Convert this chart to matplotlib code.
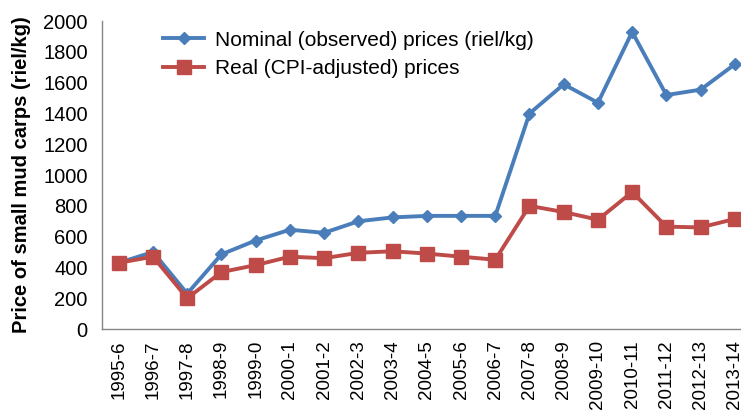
import matplotlib
matplotlib.use('Agg')
import matplotlib.pyplot as plt

plt.rcParams['font.family'] = ['Liberation Sans', 'DejaVu Sans']

years = ['1995-6', '1996-7', '1997-8', '1998-9', '1999-0', '2000-1', '2001-2',
         '2002-3', '2003-4', '2004-5', '2005-6', '2006-7', '2007-8', '2008-9',
         '2009-10', '2010-11', '2011-12', '2012-13', '2013-14']

nominal = [430, 500, 230, 485, 575, 645, 625, 700, 725, 735, 735, 735,
           1400, 1590, 1470, 1930, 1520, 1555, 1720]

real = [430, 470, 200, 370, 415, 470, 460, 495, 505, 490, 470, 450,
        800, 760, 710, 890, 665, 660, 715]

fig = plt.figure(figsize=(7.41, 4.11), dpi=100)
ax = fig.add_axes([0.1372, 0.1995, 0.8776, 0.749])

x = list(range(len(years)))
ax.plot(x, nominal, color='#4a7ebb', lw=2.8, marker='D', ms=6,
        label='Nominal (observed) prices (riel/kg)')
ax.plot(x, real, color='#be4b48', lw=2.8, marker='s', ms=10,
        label='Real (CPI-adjusted) prices')

ax.set_xlim(-0.5, len(years) - 0.5)
ax.set_ylim(0, 2000)
ax.set_yticks(range(0, 2001, 200))
ax.set_xticks(x)
ax.set_xticklabels(years, rotation=90, fontsize=13.5)
ax.tick_params(axis='x', length=0, pad=8)
ax.tick_params(axis='y', length=0, labelsize=14.5, pad=10)

for s in ['top', 'right']:
    ax.spines[s].set_visible(False)
for s in ['left', 'bottom']:
    ax.spines[s].set_color('#868686')
    ax.spines[s].set_linewidth(1)

ax.set_ylabel('Price of small mud carps (riel/kg)', fontsize=14.5,
              fontweight='bold', labelpad=9)

ax.legend(loc='upper left', bbox_to_anchor=(0.065, 1.03), frameon=False,
          fontsize=15, handlelength=2.0, handletextpad=0.5, labelspacing=0.45)

fig.savefig('out.png', dpi=100)
